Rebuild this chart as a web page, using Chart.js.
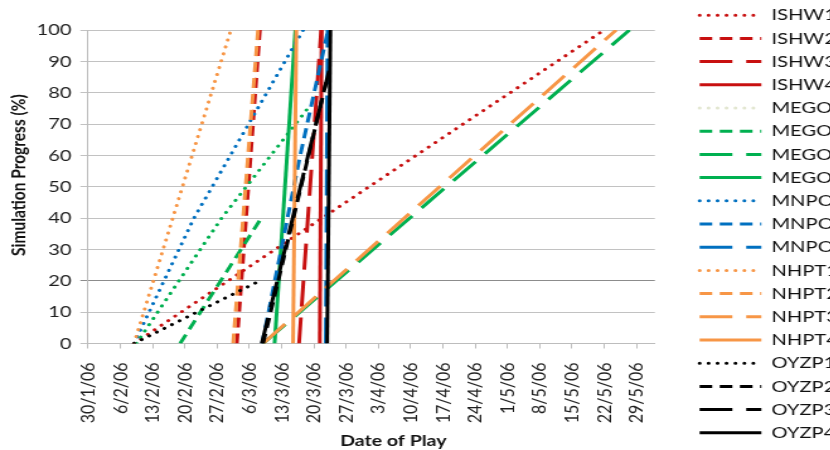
<!DOCTYPE html>
<html>
<head>
<meta charset="utf-8">
<title>Simulation progress</title>
<script src="https://cdn.jsdelivr.net/npm/chart.js@4.4.0/dist/chart.umd.min.js"></script>
<style>
    html, body { margin: 0; padding: 0; background: #fff; overflow: hidden; }
    #wrap { width: 830px; height: 450px; overflow: hidden; }
    /* the source picture is stretched sideways, so the canvas is too */
    #myChart { display: block; transform: scaleX(1.26); transform-origin: 0 0; }
</style>
</head>
<body>
<div id="wrap"><canvas id="myChart" width="681" height="450"></canvas></div>
<script>
// days counted from 30/1/06, progress in %
var tickLabels = ['30/1/06', '6/2/06', '13/2/06', '20/2/06', '27/2/06', '6/3/06', '13/3/06', '20/3/06', '27/3/06',
    '3/4/06', '10/4/06', '17/4/06', '24/4/06', '1/5/06', '8/5/06', '15/5/06', '22/5/06', '29/5/06'];

var ISHW1_day = [10, 112],          ISHW1_pct = [0, 100];
var ISHW2_day = [32.3, 37.3],       ISHW2_pct = [0, 100];
var ISHW3_day = [45.8, 50.6],       ISHW3_pct = [0, 100];
var ISHW4_day = [50.3, 50.7],       ISHW4_pct = [0, 100];
var MEGO1_day = [10.5, 29, 47.7],   MEGO1_pct = [0, 40, 75];
var MEGO2_day = [20, 37.6],         MEGO2_pct = [0, 40];
var MEGO3_day = [38, 117.5],        MEGO3_pct = [0, 100];
var MEGO4_day = [40.5, 45],         MEGO4_pct = [0, 100];
var MNPO1_day = [10, 23, 46.7],     MNPO1_pct = [0, 40, 100];
var MNPO2_day = [37.8, 45.9, 52.1], MNPO2_pct = [0, 59, 100];
var MNPO3_day = [51.6, 52],         MNPO3_pct = [0, 100];
var NHPT1_day = [10, 31],           NHPT1_pct = [0, 100];
var NHPT2_day = [31.5, 36.9],       NHPT2_pct = [0, 100];
var NHPT3_day = [38, 114.6],        NHPT3_pct = [0, 100];
var NHPT4_day = [44.5, 45.2],       NHPT4_pct = [0, 100];
var OYZP1_day = [10, 37.3],         OYZP1_pct = [0, 20];
var OYZP2_day = [38, 51.8],         OYZP2_pct = [0, 84];
var OYZP3_day = [37.7, 52.3],       OYZP3_pct = [0, 87];
var OYZP4_day = [51.9, 52.6],       OYZP4_pct = [0, 100];

var RED = '#c81010', GREEN = '#00b050', BLUE = '#0070c0', ORANGE = '#f79646', BLACK = '#000000';
var PALE = '#e2e6d0';

var DOT = [0.1, 7], DASH = [10, 6], LONG = [26, 11], SOLID = [];

var series = [
    ['ISHW1', ISHW1_day, ISHW1_pct, RED, DOT],
    ['ISHW2', ISHW2_day, ISHW2_pct, RED, DASH],
    ['ISHW3', ISHW3_day, ISHW3_pct, RED, LONG],
    ['ISHW4', ISHW4_day, ISHW4_pct, RED, SOLID],
    ['MEGO1', MEGO1_day, MEGO1_pct, GREEN, DOT, PALE],
    ['MEGO2', MEGO2_day, MEGO2_pct, GREEN, DASH],
    ['MEGO3', MEGO3_day, MEGO3_pct, GREEN, LONG],
    ['MEGO4', MEGO4_day, MEGO4_pct, GREEN, SOLID],
    ['MNPO1', MNPO1_day, MNPO1_pct, BLUE, DOT],
    ['MNPO2', MNPO2_day, MNPO2_pct, BLUE, DASH],
    ['MNPO3', MNPO3_day, MNPO3_pct, BLUE, LONG],
    ['NHPT1', NHPT1_day, NHPT1_pct, ORANGE, DOT],
    ['NHPT2', NHPT2_day, NHPT2_pct, ORANGE, DASH],
    ['NHPT3', NHPT3_day, NHPT3_pct, ORANGE, LONG],
    ['NHPT4', NHPT4_day, NHPT4_pct, ORANGE, SOLID],
    ['OYZP1', OYZP1_day, OYZP1_pct, BLACK, DOT],
    ['OYZP2', OYZP2_day, OYZP2_pct, BLACK, DASH],
    ['OYZP3', OYZP3_day, OYZP3_pct, BLACK, LONG],
    ['OYZP4', OYZP4_day, OYZP4_pct, BLACK, SOLID]
];

function toPoints(days, pct) {
    return days.map(function(d, i) { return {x: d, y: pct[i]}; });
}

var datasets = series.map(function(s, i) {
    return {
        label: s[0],
        data: toPoints(s[1], s[2]),
        borderColor: s[3],
        backgroundColor: s[3],
        borderDash: s[4],
        borderCapStyle: s[4] === DOT ? 'round' : 'butt',
        borderJoinStyle: 'round',
        borderWidth: 3,
        pointRadius: 0,
        tension: 0,
        fill: false,
        legendColor: s[5],
        order: -i   // later series on top, like the spreadsheet
    };
});

var FONT = 'Lato';

var chart = new Chart(document.getElementById('myChart'), {
    type: 'line',
    data: {datasets: datasets},
    options: {
        responsive: false,
        animation: false,
        events: [],
        layout: {padding: 0},
        scales: {
            x: {
                type: 'linear',
                position: 'bottom',
                min: 0,
                max: 123,
                afterFit: function(scale) { scale.height = 106.5; },
                ticks: {
                    stepSize: 7,
                    maxTicksLimit: 30,
                    includeBounds: false,
                    autoSkip: false,
                    minRotation: 90,
                    maxRotation: 90,
                    padding: 14,
                    color: '#1f1f1f',
                    font: {family: FONT, size: 16},
                    callback: function(value) { return tickLabels[Math.round(value / 7)]; }
                },
                grid: {drawOnChartArea: false, drawTicks: true, tickLength: 5, color: '#bdbdbd'},
                border: {color: '#bdbdbd'},
                title: {
                    display: true,
                    text: '\u2003\u2003\u2003Date of Play',
                    color: '#111',
                    font: {family: FONT, size: 15.5, weight: 'bold'},
                    padding: {top: 0, bottom: 0}
                }
            },
            xTop: {
                type: 'linear',
                axis: 'x',
                position: 'top',
                display: true,
                afterFit: function(scale) { scale.height = 30; },
                ticks: {display: false},
                grid: {display: false},
                border: {display: false}
            },
            y: {
                min: 0,
                max: 100,
                afterFit: function(scale) { scale.width = 69.8; },
                ticks: {
                    stepSize: 10,
                    padding: 7,
                    color: '#1f1f1f',
                    font: {family: FONT, size: 16}
                },
                grid: {
                    tickLength: 6,
                    color: function(ctx) { return ctx.tick && ctx.tick.value === 20 ? '#8c8c8c' : '#c2c2c2'; },
                    lineWidth: 1
                },
                border: {color: '#bdbdbd'},
                title: {
                    display: true,
                    text: '\u2003\u2003Simulation Progress (%)',
                    color: '#111',
                    font: {family: FONT, size: 15.5, weight: 'bold'},
                    padding: {top: 6, bottom: 0}
                }
            },
            yGap: {
                type: 'linear',
                axis: 'y',
                position: 'right',
                display: true,
                afterFit: function(scale) { scale.width = 28.3; },
                ticks: {display: false},
                grid: {display: false},
                border: {display: false}
            }
        },
        plugins: {
            tooltip: {enabled: false},
            legend: {
                position: 'right',
                align: 'start',
                maxWidth: 300,
                labels: {
                    usePointStyle: true,
                    pointStyle: 'line',
                    pointStyleWidth: 49,
                    padding: 7.2,
                    color: '#111',
                    font: {family: FONT, size: 16},
                    sort: function(a, b) { return a.datasetIndex - b.datasetIndex; },
                    generateLabels: function(chart) {
                        var items = Chart.defaults.plugins.legend.labels.generateLabels(chart);
                        items.forEach(function(item) {
                            // point style legends take the point look, so copy the line look back in
                            var ds = chart.data.datasets[item.datasetIndex];
                            item.lineDash = ds.borderDash;
                            item.lineCap = ds.borderCapStyle;
                            item.lineWidth = ds.borderWidth;
                            item.strokeStyle = ds.legendColor || ds.borderColor;
                            item.fillStyle = ds.legendColor || ds.borderColor;
                        });
                        return items;
                    }
                }
            }
        }
    }
});
</script>
</body>
</html>
